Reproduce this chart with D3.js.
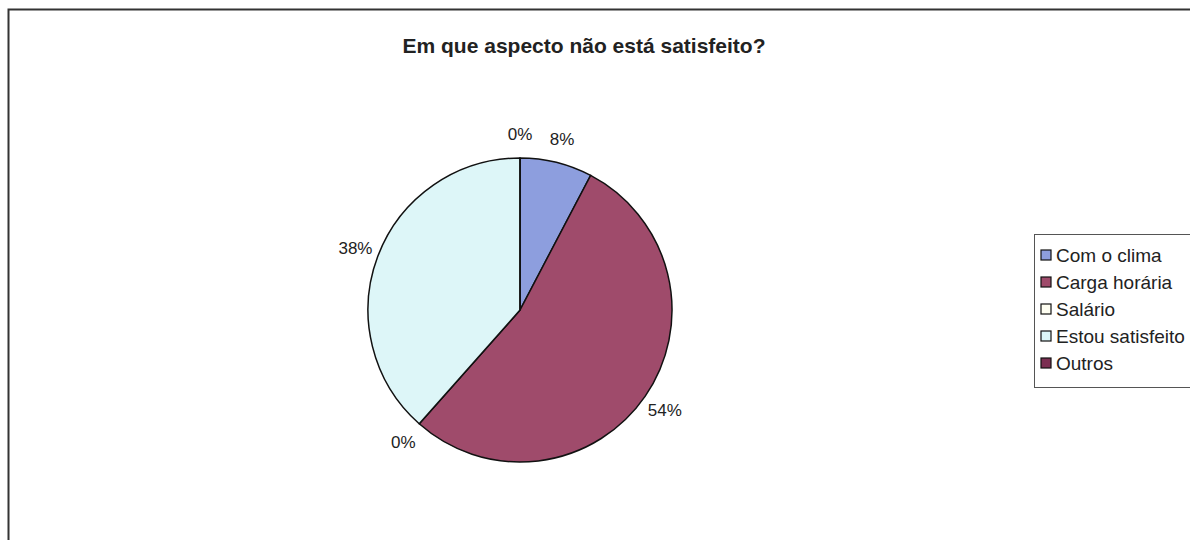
<!DOCTYPE html>
<html>
<head>
<meta charset="utf-8">
<script src="https://cdn.jsdelivr.net/npm/d3@7"></script>
<style>
  body { margin: 0; background: #fff; }
  text { font-family: "Liberation Sans", Arial, sans-serif; fill: #222; }
</style>
</head>
<body>
<div id="chart"></div>
<script>
const categories = ["Com o clima", "Carga horária", "Salário", "Estou satisfeito", "Outros"];
const counts = [1, 7, 0, 5, 0];
const colors = ["#8d9ede", "#9f4b6b", "#fffff2", "#ddf6f8", "#7b2f52"];
const title = "Em que aspecto não está satisfeito?";

const width = 1190, height = 540;
const cx = 520, cy = 310, radius = 152;

const svg = d3.select("#chart")
  .append("svg")
  .attr("width", width)
  .attr("height", height);

// outer frame (only left and top edges visible)
svg.append("path")
  .attr("d", `M8.5,${height} L8.5,9.5 L${width},9.5`)
  .attr("fill", "none")
  .attr("stroke", "#333")
  .attr("stroke-width", 2);

svg.append("text")
  .attr("x", 584)
  .attr("y", 53)
  .attr("text-anchor", "middle")
  .style("font-size", "21px")
  .style("font-weight", "bold")
  .text(title);

const total = d3.sum(counts);
const pie = d3.pie().sort(null).value(d => d);
const arcs = pie(counts);
const arc = d3.arc().innerRadius(0).outerRadius(radius);
const labelArc = d3.arc().innerRadius(radius + 24).outerRadius(radius + 24);

const g = svg.append("g").attr("transform", `translate(${cx},${cy})`);

g.selectAll("path")
  .data(arcs)
  .enter()
  .append("path")
  .attr("d", arc)
  .attr("fill", (d, i) => colors[i])
  .attr("stroke", "#111")
  .attr("stroke-width", 1.5);

g.selectAll("text.lbl")
  .data(arcs)
  .enter()
  .append("text")
  .attr("class", "lbl")
  .attr("transform", d => `translate(${labelArc.centroid(d)})`)
  .attr("text-anchor", "middle")
  .attr("dy", "0.35em")
  .style("font-size", "17px")
  .text(d => Math.round(d.data / total * 100) + "%");

// legend
const legend = svg.append("g").attr("transform", "translate(1034,234)");
legend.append("rect")
  .attr("x", 0.5).attr("y", 0.5)
  .attr("width", 170).attr("height", 153)
  .attr("fill", "#fff")
  .attr("stroke", "#555")
  .attr("stroke-width", 1);

const rows = legend.selectAll("g.row")
  .data(categories)
  .enter()
  .append("g")
  .attr("class", "row")
  .attr("transform", (d, i) => `translate(0,${21 + i * 27})`);

rows.append("rect")
  .attr("x", 7).attr("y", -5)
  .attr("width", 10).attr("height", 10)
  .attr("fill", (d, i) => colors[i])
  .attr("stroke", "#111")
  .attr("stroke-width", 1.2);

rows.append("text")
  .attr("x", 22)
  .attr("dy", "0.35em")
  .style("font-size", "19px")
  .text(d => d);
</script>
</body>
</html>
